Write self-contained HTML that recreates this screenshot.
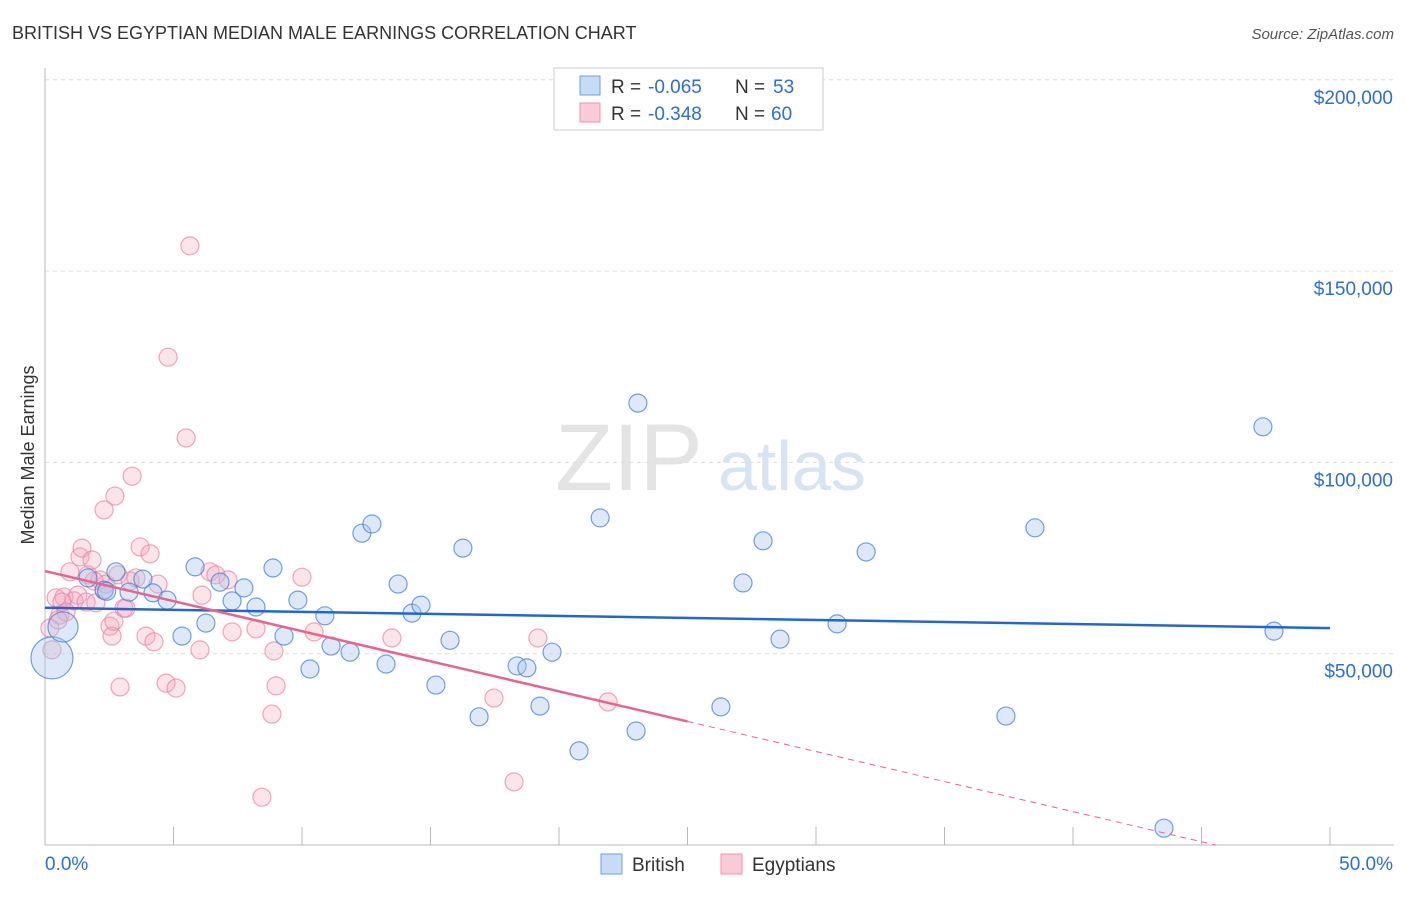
<!DOCTYPE html>
<html><head><meta charset="utf-8"><style>
body{margin:0;background:#fff;font-family:"Liberation Sans",sans-serif;}
svg text{font-family:"Liberation Sans",sans-serif;}
</style></head><body>
<svg id="c" width="1406" height="892">
<text x="12" y="39" font-size="18" fill="#333">BRITISH VS EGYPTIAN MEDIAN MALE EARNINGS CORRELATION CHART</text>
<text x="1394" y="39" font-size="15" fill="#555" text-anchor="end" font-style="italic">Source: ZipAtlas.com</text>
<text transform="translate(34,455) rotate(-90)" font-size="18" fill="#333" text-anchor="middle">Median Male Earnings</text>
<text x="555" y="490" font-size="95" fill="#e4e4e4" font-family="Liberation Serif">ZIP</text>
<text x="718" y="490" font-size="70" fill="#d6e4f3">atlas</text>
<g id="grid"></g><g id="pts"></g><g id="lines"></g>
<g>
<rect x="554" y="68" width="269" height="62" fill="#fff" stroke="#ccc"/>
<rect x="580" y="76" width="20" height="19" fill="#c6dbf5" stroke="#6d9fe0"/>
<rect x="580" y="103" width="20" height="19" fill="#f9cbd8" stroke="#ee95ae"/>
<text x="611" y="93" font-size="19" fill="#333">R =</text>
<text x="648" y="93" font-size="19" fill="#2b6fd6">-0.065</text>
<text x="735" y="93" font-size="19" fill="#333">N =</text>
<text x="773" y="93" font-size="19" fill="#2b6fd6">53</text>
<text x="611" y="120" font-size="19" fill="#333">R =</text>
<text x="648" y="120" font-size="19" fill="#2b6fd6">-0.348</text>
<text x="735" y="120" font-size="19" fill="#333">N =</text>
<text x="771" y="120" font-size="19" fill="#2b6fd6">60</text>
</g>
<g>
<rect x="601" y="854" width="21" height="20" fill="#c6dbf5" stroke="#6d9fe0"/>
<text x="632" y="871" font-size="19" fill="#333">British</text>
<rect x="721" y="854" width="21" height="20" fill="#f9cbd8" stroke="#ee95ae"/>
<text x="752" y="871" font-size="19" fill="#333">Egyptians</text>
</g>
<text x="45" y="870" font-size="19" fill="#2b6fd6">0.0%</text>
<text x="1393" y="870" font-size="19" fill="#2b6fd6" text-anchor="end">50.0%</text>
</svg>
<script>
const yTicks=[50000,100000,150000,200000];
const yTickLabels=["$50,000","$100,000","$150,000","$200,000"];
const xTicks=[0,5,10,15,20,25,30,35,40,45,50];
const britishX=[0.27,0.70,1.67,2.30,2.76,3.27,3.81,4.20,4.75,5.33,5.84,6.26,6.81,7.28,7.74,8.21,8.87,9.30,9.84,10.31,10.89,11.13,11.87,12.33,12.72,13.27,13.74,14.28,14.63,15.21,15.76,16.26,16.89,18.37,18.75,19.26,19.73,20.78,21.60,23.00,23.07,26.30,27.16,27.94,28.60,30.82,31.95,37.39,38.52,43.54,47.39,47.82,2.40];
const britishY=[48.9,57.0,69.8,66.6,71.4,66.1,69.5,65.9,64.0,54.6,72.7,58.0,68.7,63.8,67.2,62.2,72.4,54.6,64.0,46.0,59.9,52.0,50.4,81.5,83.9,47.3,68.2,60.6,62.7,41.8,53.5,77.6,33.5,46.8,46.3,36.3,50.4,24.6,85.5,29.8,115.5,36.1,68.5,79.5,53.8,57.8,76.6,33.7,82.9,4.4,109.3,55.9,66.3];
const britishR=[21,15,9,9,9,9,9,9,9,9,9,9,9,9,9,9,9,9,9,9,9,9,9,9,9,9,9,9,9,9,9,9,9,9,9,9,9,9,9,9,9,9,9,9,9,9,9,9,9,9,9,9,9];
const egyptX=[0.19,0.27,0.43,0.58,0.74,0.97,1.13,1.28,1.36,1.44,1.60,1.67,1.83,1.98,2.14,2.30,2.37,2.53,2.61,2.68,2.84,2.92,3.07,3.15,3.54,3.70,3.93,4.09,4.24,4.40,4.71,4.79,5.10,5.49,5.64,6.03,6.11,6.42,6.65,7.12,8.21,8.44,8.83,8.91,8.99,10.00,10.47,13.50,17.47,18.25,19.18,21.91,3.39,2.72,2.30,1.91,0.66,0.82,3.31,7.28,0.51];
const egyptY=[56.7,51.0,64.6,60.1,64.8,71.4,63.8,65.3,75.3,77.6,63.5,70.6,74.5,63.3,69.3,66.6,68.2,57.2,54.6,58.5,70.6,41.3,61.9,61.9,69.8,77.9,54.6,76.1,53.1,68.2,42.3,127.5,41.0,106.4,156.6,51.0,65.3,71.4,70.6,69.3,56.5,12.5,34.2,50.7,41.6,70.0,55.7,54.1,38.4,16.5,54.1,37.4,96.4,91.2,87.6,69.0,63.5,60.9,69.0,55.7,58.8];
const trendBritish=[62.0,56.7];  // value at 0% and 50% (k$)
const trendEgypt=[71.6,32.3,25];   // value at 0%, value at solid end, solid end %
const X=v=>45+v*25.7, Y=v=>845-v*3.826;
const NS="http://www.w3.org/2000/svg";
function mk(tag,attrs,parent){const e=document.createElementNS(NS,tag);for(const k in attrs)e.setAttribute(k,attrs[k]);parent.appendChild(e);return e;}
const grid=document.getElementById('grid');
yTicks.forEach((t,i)=>{
 const y=Y(t/1000);
 const l=mk('line',{x1:45,x2:1394,y1:y,y2:y,stroke:'#ddd','stroke-dasharray':'4,4'},grid);
 
 
 const tx=mk('text',{x:1393,y:y+24,'font-size':19,fill:'#2b6fd6','text-anchor':'end'},grid);
 tx.textContent=yTickLabels[i];
 
 
});
mk('line',{x1:45,x2:45,y1:68,y2:845,stroke:'#bbb'},grid);
mk('line',{x1:45,x2:1394,y1:845,y2:845,stroke:'#bbb'},grid);
xTicks.forEach(t=>{
 const tk=mk('line',{x1:X(t),x2:X(t),y1:827,y2:845,stroke:'#bbb'},grid);
 
 
});
const pts=document.getElementById('pts');
egyptX.forEach((x,i)=>{
 const c=mk('circle',{cx:X(x),cy:Y(egyptY[i]),r:9,fill:'rgba(245,165,190,0.3)',stroke:'rgba(235,130,160,0.7)','stroke-width':1.2},pts);
 
 
});
britishX.forEach((x,i)=>{
 const c=mk('circle',{cx:X(x),cy:Y(britishY[i]),r:britishR[i],fill:'rgba(165,198,240,0.38)',stroke:'rgba(70,130,215,0.75)','stroke-width':1.2},pts);
 
 
});
const lines=document.getElementById('lines');
const bl=mk('line',{x1:X(0),y1:Y(trendBritish[0]),x2:X(50),y2:Y(trendBritish[1]),stroke:'#2266d0','stroke-width':2.5},lines);


const slope=(trendEgypt[1]-trendEgypt[0])/trendEgypt[2];
const zeroX=-trendEgypt[0]/slope;
const el=mk('line',{x1:X(0),y1:Y(trendEgypt[0]),x2:X(trendEgypt[2]),y2:Y(trendEgypt[1]),stroke:'#e8648e','stroke-width':2.5},lines);


const ed=mk('line',{x1:X(trendEgypt[2]),y1:Y(trendEgypt[1]),x2:X(zeroX),y2:Y(0),stroke:'#e8648e','stroke-width':1,'stroke-dasharray':'6,5'},lines);


</script>
</body></html>
